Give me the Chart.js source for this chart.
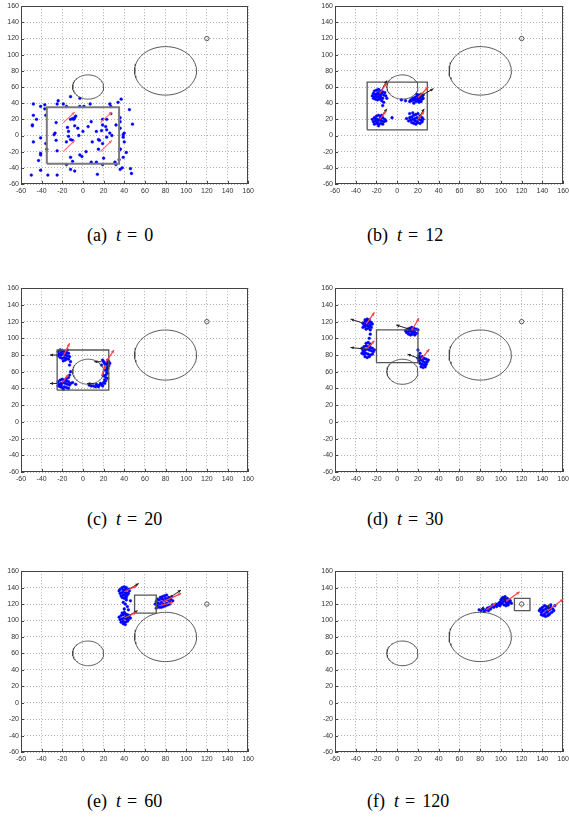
<!DOCTYPE html>
<html>
<head>
<meta charset="utf-8">
<script src="https://cdn.jsdelivr.net/npm/chart.js@4.4.0/dist/chart.umd.min.js"></script>
<style>
  body { margin: 0; background: #fff; width: 569px; height: 817px; position: relative; overflow: hidden; }
  .box { position: absolute; }
  .cap { position: absolute; font-family: 'Liberation Serif', 'Times New Roman', serif; font-size: 18px; color: #000; white-space: nowrap; }
  .cap i { margin: 0 6px 0 9px; }
  .cap .eq { margin-right: 7px; }
</style>
</head>
<body>
<script>
// axis ticks (both axes share the same range)
const axisTicks = [-60, -40, -20, 0, 20, 40, 60, 80, 100, 120, 140, 160];

// obstacles: [cx, cy, rx, ry]
const obstacleBig   = [80, 80, 30, 30];
const obstacleSmall = [5, 60, 15, 15];
const goal = [120, 120];

// panel captions
const panelLetters = ["(a)", "(b)", "(c)", "(d)", "(e)", "(f)"];
const panelTimes   = [0, 12, 20, 30, 60, 120];

// formation box per panel: [x1, y1, x2, y2]
const rectA = [-35, -35, 35, 35];
const rectB = [-29, 7, 29, 66];
const rectC = [-25, 38, 25, 86];
const rectD = [-20, 71, 20, 110];
const rectE = [50, 109, 71, 131];
const rectF = [113, 112, 128, 127];

// agent positions per panel
const ptsA = [[-48,39],[-41,36],[-37,33],[-37,38],[-48,25],[-45,20],[-49,13],[-49,12],[-36,25],[-41,-3],[-48,-8],[-36,-10],
  [-41,-22],[-41,-24],[-43,-31],[-35,-17],[-41,-43],[-50,-49],[-34,-49],[-25,-49],[-25,39],[-24,43],[-19,39],[-12,48],
  [-16,36],[-26,16],[-27,3],[-28,1],[-26,-6],[-25,-19],[-16,-8],[-15,10],[-14,5],[-14,-1],[-12,20],[-10,21],[-8,22],
  [-7,24],[-9,20],[-8,12],[-5,9],[-12,-5],[-10,-6],[-12,-27],[-10,-32],[-16,-36],[-12,-42],[-8,-44],[-3,46],[-3,36],
  [1,36],[7,39],[-4,0],[5,11],[3,-20],[-3,-24],[-1,-26],[8,17],[0,5],[9,-8],[13,5],[15,-5],[16,-6],[18,6],[22,11],
  [19,20],[23,20],[19,13],[23,-2],[28,0],[26,3],[23,7],[19,-10],[15,-17],[13,-33],[8,-33],[14,-48],[19,-36],[20,-28],
  [26,39],[27,36],[27,27],[32,13],[36,-17],[31,-33],[32,-36],[35,-30],[36,22],[36,17],[36,9],[37,45],[34,41],[39,1],
  [40,3],[39,-2],[40,-8],[42,-21],[39,-27],[38,-40],[36,-42],[45,32],[48,14],[46,-41],[47,-47],[36,-17]];

const ptsB = [[-22,55],[-20,56],[-18,57],[-16,55],[-14,54],[-12,53],[-23,52],[-21,51],[-19,52],[-17,51],[-15,52],[-13,50],
  [-11,49],[-24,49],[-22,48],[-20,47],[-18,48],[-16,47],[-14,46],[-21,45],[-19,44],[-17,45],[-15,43],[-13,41],[-14,37],
  [-10,46],[-23,46],[-18,53],[-20,50],[-16,49],
  [12,42],[14,43],[16,44],[18,45],[20,46],[22,47],[24,48],[25,50],[23,51],[21,50],[19,49],[17,47],[15,46],[13,44],
  [20,43],[22,44],[24,45],[18,42],[16,40],[21,41],[23,42],[25,46],[19,51],[4,44],[8,43],
  [-24,20],[-22,22],[-20,24],[-18,25],[-16,23],[-14,22],[-12,20],[-23,17],[-21,18],[-19,20],[-17,19],[-15,18],[-13,17],
  [-11,18],[-22,14],[-20,15],[-18,14],[-16,15],[-14,14],[-18,12],[-16,21],[-19,17],[-21,21],[-15,25],[-5,22],
  [9,21],[12,22],[14,23],[16,25],[18,26],[20,27],[22,24],[24,22],[11,18],[13,19],[15,20],[17,21],[19,22],[21,20],
  [23,19],[14,16],[16,15],[18,14],[20,16],[22,15],[24,17],[17,18],[19,17],[25,20],[12,27],[15,28]];

const ptsC = [[-24,84],[-22,86],[-20,85],[-18,84],[-16,83],[-14,82],[-23,81],[-21,80],[-19,81],[-17,80],[-15,79],[-13,78],
  [-22,77],[-20,76],[-18,77],[-16,76],[-14,75],[-19,73],[-17,74],[-12,72],[-24,79],[-21,83],[-15,86],[-13,68],
  [-24,48],[-22,50],[-20,51],[-18,50],[-16,49],[-14,48],[-23,45],[-21,46],[-19,47],[-17,46],[-15,45],[-13,44],[-22,42],
  [-20,41],[-18,42],[-16,41],[-14,40],[-24,43],[-12,46],[-10,47],[-14,53],[-13,56],[-12,60],[-16,52],[-7,45],[-19,39],
  [-21,44],
  [6,44],[8,43],[10,43],[12,42],[14,43],[16,44],[18,45],[20,47],[21,50],[22,53],[22,56],[23,59],[23,62],[23,65],[22,68],
  [21,70],[23,71],[25,72],[24,69],[25,67],[20,72],[19,74],[24,74],[26,70],[13,45],[15,42],[17,46],[19,43],[21,46],
  [22,49],[24,52],[20,55],[24,58],[21,62],[24,64],[18,68]];

const ptsD = [[-33,118],[-31,120],[-29,121],[-27,120],[-25,119],[-32,116],[-30,117],[-28,118],[-26,116],[-24,117],[-33,113],
  [-31,114],[-29,115],[-27,114],[-25,113],[-30,111],[-28,112],[-26,110],[-29,123],[-31,122],[-27,122],
  [-34,88],[-32,90],[-30,91],[-28,90],[-26,89],[-24,88],[-33,85],[-31,86],[-29,87],[-27,86],[-25,85],[-23,84],[-34,82],
  [-32,81],[-30,82],[-28,81],[-26,80],[-24,81],[-31,78],[-29,77],[-27,78],[-30,94],[-28,95],[-26,93],[-27,100],[-26,105],
  [-32,84],[-22,86],
  [8,109],[10,111],[12,112],[14,113],[16,112],[18,111],[20,110],[9,107],[11,108],[13,109],[15,108],[17,107],[19,106],
  [11,105],[13,104],[15,105],[17,104],[12,110],[16,110],[14,106],
  [20,76],[22,77],[24,78],[26,76],[28,75],[21,73],[23,74],[25,72],[27,71],[29,72],[22,70],[24,69],[26,68],[28,69],
  [23,66],[25,65],[27,66],[21,79],[22,82],[20,86],[30,74],[25,75]];

const ptsE = [[35,136],[36,138],[38,140],[40,141],[42,140],[44,138],[36,133],[38,134],[40,135],[42,134],[44,133],[37,130],
  [39,131],[41,130],[43,131],[38,128],[40,127],[42,128],[39,137],[41,138],[45,136],[41,133],
  [39,122],[41,120],[43,117],[40,114],[44,113],[42,125],[46,124],
  [35,104],[37,106],[39,107],[41,108],[43,107],[45,106],[36,101],[38,102],[40,103],[42,102],[44,101],[46,103],[37,98],
  [39,99],[41,98],[43,99],[39,96],[41,95],[38,109],[40,110],[42,105],[44,104],
  [70,120],[71,123],[72,118],[73,121],[74,125],[75,119],[76,122],[77,126],[78,120],[79,124],[80,127],[81,121],[82,125],
  [83,128],[84,123],[85,126],[86,129],[72,126],[74,116],[76,116],[78,117],[80,118],[82,119],[84,120],[75,128],[77,129],
  [79,130],[81,131],[87,124],[71,115]];

const ptsF = [[79,113],[81,112],[83,114],[84,111],[86,113],[87,115],[88,112],[89,116],[90,114],[91,117],[92,119],[93,116],
  [94,118],[95,120],[96,117],[97,119],[98,121],[99,118],[100,120],
  [99,122],[100,125],[101,127],[102,128],[103,126],[104,124],[105,122],[106,120],[107,123],[108,125],[109,124],[110,121],
  [101,121],[103,119],[105,118],[107,119],[102,123],[104,129],[106,127],[108,122],
  [137,112],[138,114],[139,110],[140,116],[141,112],[142,108],[143,114],[144,117],[145,111],[146,107],[147,113],[148,116],
  [149,110],[150,114],[151,112],[152,118],[139,107],[141,106],[143,105],[145,106],[147,108],[140,113],[144,110],[146,115],
  [148,119],[142,118]];

// arrows: [x1, y1, x2, y2]
const redA = [[-19,16,-8,29],[-19,-20,-8,-6],[17,16,28,29],[17,-20,28,-6]];
const blackA = [];
const redB = [[-17,52,-10,65],[20,47,30,60],[-17,20,-11,30],[20,20,26,30]];
const blackB = [[-17,52,-10,68],[20,47,35,58],[-17,20,-10,33],[20,20,26,33]];
const redC = [[-19,79,-13,94],[22,71,30,86],[-20,47,-14,57],[18,55,22,68]];
const blackC = [[-25,80,-32,80],[-25,46,-32,46],[18,72,11,72],[11,46,4,46]];
const redD = [[-30,117,-22,131],[-30,87,-22,97],[14,110,21,124],[23,75,31,87]];
const blackD = [[-30,117,-45,123],[-30,87,-45,89],[14,110,-1,116],[23,75,10,81]];
const redE = [[40,135,52,142],[40,103,52,110],[78,123,95,133],[74,118,87,122]];
const blackE = [[40,135,54,145],[40,103,53,112],[78,123,95,137]];
const redF = [[86,113,95,121],[105,123,118,135],[145,112,160,126]];
const blackF = [[82,114,83,117],[104,124,104,129],[144,113,146,119]];

// chart area placement for each panel: [left, top, width, height]
const layoutBoxes = [[21,5,228,179],[335,5,229,179],[21,287,228,185],[335,287,229,185],[21,570,228,182],[335,570,229,182]];
const captionPos = [[87,225],[367,225],[87,509],[367,509],[87,791],[367,791]];

const panelRects = [rectA, rectB, rectC, rectD, rectE, rectF];
const panelPts = [ptsA, ptsB, ptsC, ptsD, ptsE, ptsF];
const panelRed = [redA, redB, redC, redD, redE, redF];
const panelBlack = [blackA, blackB, blackC, blackD, blackE, blackF];

const AXIS_W = 21, AXIS_H = 16, PAD_T = 5, PAD_R = 8;

function ellipseOutline(e) {
  const out = [];
  for (let i = 0; i <= 90; i++) {
    const a = i / 90 * Math.PI * 2;
    out.push({ x: e[0] + e[2] * Math.cos(a), y: e[1] + e[3] * Math.sin(a) });
  }
  return out;
}

function rectOutline(r) {
  return [{x:r[0],y:r[1]},{x:r[2],y:r[1]},{x:r[2],y:r[3]},{x:r[0],y:r[3]},{x:r[0],y:r[1]}];
}

// frame, inward ticks and arrows drawn via the chart's own scales
const framePlugin = {
  id: "frame",
  afterDatasetsDraw(chart, args, opts) {
    const { ctx, chartArea: ca, scales: { x, y } } = chart;
    ctx.save();
    ctx.strokeStyle = "#444";
    ctx.lineWidth = 1;
    ctx.strokeRect(Math.round(ca.left) + 0.5, Math.round(ca.top) + 0.5,
                   Math.round(ca.right - ca.left) - 1, Math.round(ca.bottom - ca.top) - 1);
    ctx.beginPath();
    axisTicks.forEach(v => {
      const px = Math.round(x.getPixelForValue(v)) + 0.5;
      ctx.moveTo(px, ca.bottom); ctx.lineTo(px, ca.bottom - 3);
      const py = Math.round(y.getPixelForValue(v)) + 0.5;
      ctx.moveTo(ca.left, py); ctx.lineTo(ca.left + 3, py);
    });
    ctx.stroke();

    const drawArrow = (a, color, w) => {
      const x1 = x.getPixelForValue(a[0]), y1 = y.getPixelForValue(a[1]);
      const x2 = x.getPixelForValue(a[2]), y2 = y.getPixelForValue(a[3]);
      const ang = Math.atan2(y2 - y1, x2 - x1);
      ctx.strokeStyle = color;
      ctx.fillStyle = color;
      ctx.lineWidth = w;
      ctx.beginPath(); ctx.moveTo(x1, y1); ctx.lineTo(x2, y2); ctx.stroke();
      ctx.beginPath();
      ctx.moveTo(x2, y2);
      ctx.lineTo(x2 - 3.5 * Math.cos(ang - 0.45), y2 - 3.5 * Math.sin(ang - 0.45));
      ctx.lineTo(x2 - 3.5 * Math.cos(ang + 0.45), y2 - 3.5 * Math.sin(ang + 0.45));
      ctx.closePath(); ctx.fill();
    };
    opts.black.forEach(a => drawArrow(a, "#222", 1));
    opts.red.forEach(a => drawArrow(a, opts.redColor, 1.2));
    ctx.restore();
  }
};

function makePanel(i) {
  const [L, T, W, H] = layoutBoxes[i];
  const box = document.createElement("div");
  box.className = "box";
  box.style.left = (L - AXIS_W) + "px";
  box.style.top = (T - PAD_T) + "px";
  const cw = W + AXIS_W + PAD_R, ch = H + PAD_T + AXIS_H;
  box.style.width = cw + "px";
  box.style.height = ch + "px";
  const canvas = document.createElement("canvas");
  canvas.width = cw; canvas.height = ch;
  box.appendChild(canvas);
  document.body.appendChild(box);

  const tickFont = { family: "'Liberation Sans Narrow', 'Liberation Sans', Arial, sans-serif", size: 7 };
  const axis = (isX) => ({
    type: "linear",
    min: -60, max: 160,
    afterBuildTicks: s => { s.ticks = axisTicks.map(v => ({ value: v })); },
    afterFit: s => { if (isX) s.height = AXIS_H; else s.width = AXIS_W; },
    grid: { color: "#9a9a9a", lineWidth: 0.8, drawTicks: false },
    border: { display: false, dash: [1, 2] },
    ticks: { font: tickFont, color: "#333", padding: isX ? 3 : 2, autoSkip: false, maxRotation: 0 }
  });

  const rectColor = i === 0 ? "#7a7a7a" : "#555";
  new Chart(canvas.getContext("2d"), {
    type: "scatter",
    data: {
      datasets: [
        { data: rectOutline(panelRects[i]), showLine: true, borderColor: rectColor, borderWidth: i === 0 ? 2 : 1.3,
          pointRadius: 0, fill: false },
        { data: ellipseOutline(obstacleBig), showLine: true, borderColor: "#444", borderWidth: 0.9, pointRadius: 0, fill: false },
        { data: ellipseOutline(obstacleSmall), showLine: true, borderColor: "#444", borderWidth: 0.9, pointRadius: 0, fill: false },
        { data: [{ x: goal[0], y: goal[1] }], pointRadius: 2.2, pointBackgroundColor: "rgba(0,0,0,0)",
          pointBorderColor: "#333", pointBorderWidth: 0.8 },
        { data: panelPts[i].map(p => ({ x: p[0], y: p[1] })), pointRadius: 1.4, pointBackgroundColor: "#0000ff",
          pointBorderColor: "#0000ff", pointBorderWidth: 0.4 }
      ]
    },
    options: {
      responsive: false,
      animation: false,
      devicePixelRatio: 1,
      layout: { padding: { top: PAD_T, right: PAD_R, left: 0, bottom: 0 } },
      scales: { x: axis(true), y: axis(false) },
      plugins: {
        legend: { display: false },
        tooltip: { enabled: false },
        frame: { red: panelRed[i], black: panelBlack[i], redColor: i === 0 ? "#ff6f6f" : "#ff4040" }
      }
    },
    plugins: [framePlugin]
  });

  const cap = document.createElement("div");
  cap.className = "cap";
  cap.style.left = captionPos[i][0] + "px";
  cap.style.top = captionPos[i][1] + "px";
  cap.innerHTML = panelLetters[i] + "<i>t</i><span class=\"eq\">=</span>" + panelTimes[i];
  document.body.appendChild(cap);
}

for (let i = 0; i < 6; i++) makePanel(i);
</script>
</body>
</html>
